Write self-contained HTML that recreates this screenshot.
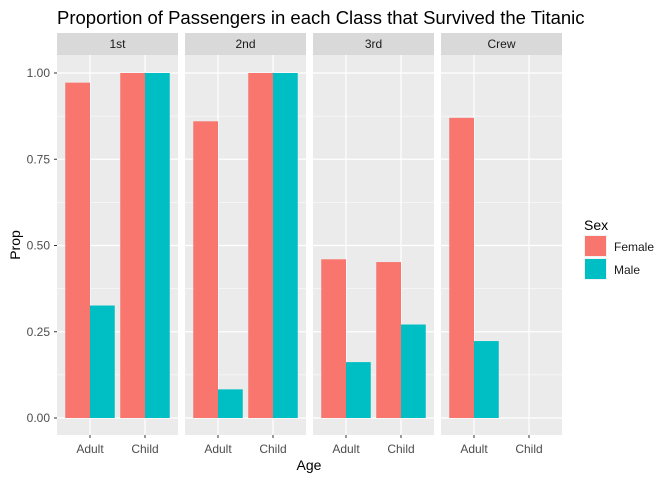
<!DOCTYPE html>
<html><head><meta charset="utf-8"><style>body{margin:0;background:#fff}svg{display:block;font-family:"Liberation Sans",Arial,sans-serif}</style></head>
<body>
<svg id="chart" width="672" height="480" viewBox="0 0 672 480">
<text x="57" y="24" font-size="18.5" fill="#000">Proportion of Passengers in each Class that Survived the Titanic</text>
<text transform="translate(20,245) rotate(-90)" text-anchor="middle" font-size="14">Prop</text>
<text x="309" y="470" text-anchor="middle" font-size="14">Age</text>
<g id="panels"></g>
<g>
<text x="584" y="230" font-size="14">Sex</text>
<rect x="584" y="235" width="23" height="22" fill="#F2F2F2"/>
<rect x="585" y="236" width="21" height="20" fill="#F8766D"/>
<text x="614" y="251" font-size="12" fill="#1a1a1a">Female</text>
<rect x="584" y="258" width="23" height="22" fill="#F2F2F2"/>
<rect x="585" y="259" width="21" height="20" fill="#00BFC4"/>
<text x="614" y="274" font-size="12" fill="#1a1a1a">Male</text>
</g>
</svg>
<script>
const classes=["1st","2nd","3rd","Crew"];
const ages=["Adult","Child"];
const femaleProp=[[0.972,1],[0.86,1],[0.46,0.452],[0.87,null]];
const maleProp=[[0.326,1],[0.083,1],[0.162,0.271],[0.223,null]];
const yTicks=[0,0.25,0.5,0.75,1];
const yTickLabels=["0.00","0.25","0.50","0.75","1.00"];
const NS="http://www.w3.org/2000/svg";
const g=document.getElementById("panels");
function mk(t,a,p){const e=document.createElementNS(NS,t);for(const k in a)e.setAttribute(k,a[k]);(p||g).appendChild(e);return e;}
const panelX0=[57,185,313,441],pw=121,pTop=55,pBot=435;
const y=v=>418-v*345;
panelX0.forEach((x0,i)=>{
  const x=u=>x0+(u-0.4)/2.2*pw;
  const bg=mk("rect",{x:x0,y:pTop,width:pw,height:pBot-pTop,fill:"#EBEBEB"});
  
  
  const st=mk("rect",{x:x0,y:33,width:pw,height:22,fill:"#D9D9D9"});
  
  
  const sl=mk("text",{x:x0+pw/2,y:48,"text-anchor":"middle","font-size":"12",fill:"#1a1a1a"});
  sl.textContent=classes[i];
  
  
  for(let k=0;k<yTicks.length-1;k++){const m=(yTicks[k]+yTicks[k+1])/2;
    const l=mk("line",{x1:x0,x2:x0+pw,y1:y(m),y2:y(m),stroke:"#fff","stroke-width":0.6});
    }
  yTicks.forEach(t=>{const l=mk("line",{x1:x0,x2:x0+pw,y1:y(t),y2:y(t),stroke:"#fff","stroke-width":1.2});
    });
  ages.forEach((a,j)=>{const cx=x(j+1);
    const l=mk("line",{x1:cx,x2:cx,y1:pTop,y2:pBot,stroke:"#fff","stroke-width":1.2});
    
    const tk=mk("line",{x1:cx,x2:cx,y1:pBot,y2:pBot+3,stroke:"#333"});
    
    const tl=mk("text",{x:cx,y:453,"text-anchor":"middle","font-size":"12",fill:"#4D4D4D"});
    tl.textContent=a;
    const bw=0.45*pw/2.2;
    [[femaleProp,"#F8766D","female"],[maleProp,"#00BFC4","male"]].forEach((s,k)=>{const v=s[0][i][j];if(v==null)return;
      const b=mk("rect",{x:cx-bw+k*bw,y:y(v),width:bw,height:y(0)-y(v),fill:s[1]});
      
      });
  });
});
yTicks.forEach((t,k)=>{
  const tl=mk("text",{x:50,y:y(t)+4,"text-anchor":"end","font-size":"12",fill:"#4D4D4D"});
  tl.textContent=yTickLabels[k];
  const tk=mk("line",{x1:54,x2:57,y1:y(t),y2:y(t),stroke:"#333"});
  
});
</script>
</body></html>
